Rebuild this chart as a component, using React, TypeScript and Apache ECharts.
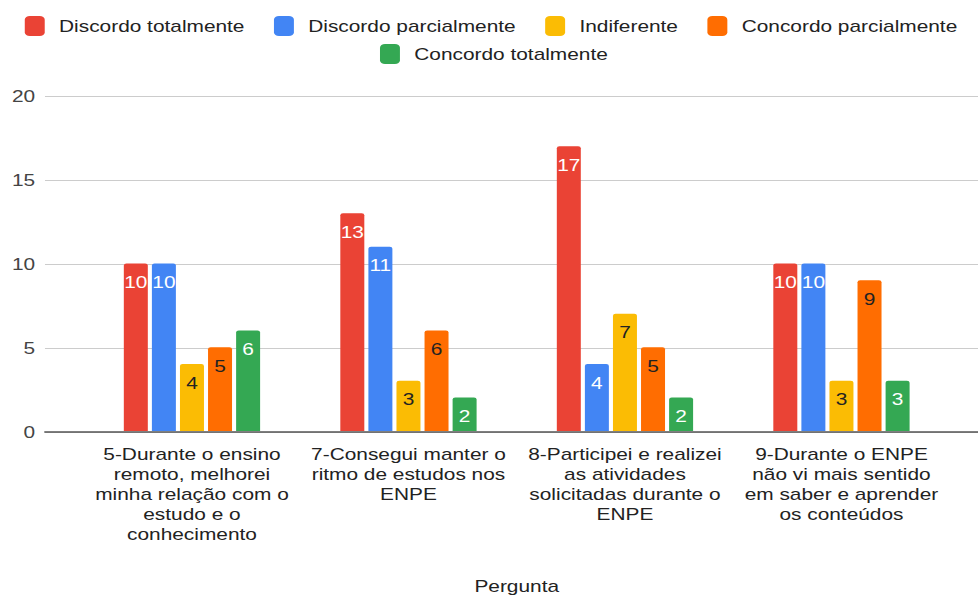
import React, { useEffect, useRef } from "react";
import * as echarts from "echarts";

const categories = [
  "5-Durante o ensino\nremoto, melhorei\nminha relação com o\nestudo e o\nconhecimento",
  "7-Consegui manter o\nritmo de estudos nos\nENPE",
  "8-Participei e realizei\nas atividades\nsolicitadas durante o\nENPE",
  "9-Durante o ENPE\nnão vi mais sentido\nem saber e aprender\nos conteúdos",
];

const seriesNames = [
  "Discordo totalmente",
  "Discordo parcialmente",
  "Indiferente",
  "Concordo parcialmente",
  "Concordo totalmente",
];

const discordoTotalmente = [10, 13, 17, 10];
const discordoParcialmente = [10, 11, 4, 10];
const indiferente = [4, 3, 7, 3];
const concordoParcialmente = [5, 6, 5, 9];
const concordoTotalmente = [6, 2, 2, 3];

const seriesValues = [
  discordoTotalmente,
  discordoParcialmente,
  indiferente,
  concordoParcialmente,
  concordoTotalmente,
];

const colors = ["#ea4335", "#4285f4", "#fbbc04", "#ff6d01", "#34a853"];
const labelColors = ["#ffffff", "#ffffff", "#222222", "#222222", "#ffffff"];

const yMin = 0;
const yMax = 20;
const yInterval = 5;
const xTitle = "Pergunta";

const BASE_W = 750;
const H = 599;
const SCALE = 978 / BASE_W;
const FONT = '"Liberation Sans", Arial, sans-serif';

export default function App() {
  const ref = useRef<HTMLDivElement>(null);

  useEffect(() => {
    if (!ref.current) return;
    const chart = echarts.init(ref.current, null, { renderer: "svg" });
    const legendCommon = {
      icon: "roundRect",
      itemWidth: 15.3,
      itemHeight: 20,
      itemGap: 22.5,
      padding: 0,
      orient: "horizontal" as const,
      textStyle: {
        fontSize: 16,
        color: "#222",
        fontFamily: FONT,
        padding: [0, 0, 0, 6],
      },
    };
    chart.setOption({
      animation: false,
      backgroundColor: "#ffffff",
      textStyle: { fontFamily: FONT },
      legend: [
        { ...legendCommon, left: 19, top: 16, data: seriesNames.slice(0, 4) },
        { ...legendCommon, left: 291.4, top: 44, data: seriesNames.slice(4) },
      ],
      grid: [
        { left: 34.5, right: 0, top: 96, bottom: H - 432, containLabel: false },
        { left: 64.2, right: 21.7, top: 96, bottom: H - 432, containLabel: false },
      ],
      xAxis: [
        {
          gridIndex: 0,
          type: "value",
          min: 0,
          max: 1,
          axisLine: { show: true, lineStyle: { color: "#555", width: 1.5 } },
          axisTick: { show: false },
          axisLabel: { show: false },
          splitLine: { show: false },
        },
        {
          gridIndex: 1,
          type: "category",
          data: categories,
          axisLine: { show: false },
          axisTick: { show: false },
          axisLabel: {
            interval: 0,
            fontSize: 16,
            lineHeight: 20,
            color: "#222",
            margin: 13,
            fontFamily: FONT,
            align: "center",
          },
          name: xTitle,
          nameLocation: "middle",
          nameGap: 147,
          nameTextStyle: { fontSize: 16, color: "#222", fontFamily: FONT },
        },
      ],
      yAxis: [
        {
          gridIndex: 0,
          type: "value",
          min: yMin,
          max: yMax,
          interval: yInterval,
          axisLine: { show: false },
          axisTick: { show: false },
          axisLabel: { fontSize: 16, color: "#444", margin: 7.5, fontFamily: FONT },
          splitLine: { show: true, lineStyle: { color: "#cccccc", width: 1 } },
        },
        {
          gridIndex: 1,
          type: "value",
          min: yMin,
          max: yMax,
          interval: yInterval,
          show: false,
          splitLine: { show: false },
        },
      ],
      series: seriesNames.map((name, i) => ({
        name,
        type: "bar",
        xAxisIndex: 1,
        yAxisIndex: 1,
        data: seriesValues[i],
        barWidth: 18.4,
        barGap: "17%",
        itemStyle: { color: colors[i], borderRadius: [2, 2, 0, 0] },
        label: {
          show: true,
          position: "insideTop",
          distance: 11,
          fontSize: 16,
          color: labelColors[i],
          fontFamily: FONT,
        },
      })),
    });
    return () => chart.dispose();
  }, []);

  return (
    <div
      ref={ref}
      style={{
        position: "absolute",
        left: 0,
        top: 0,
        width: BASE_W,
        height: H,
        transform: `scaleX(${SCALE})`,
        transformOrigin: "0 0",
      }}
    />
  );
}
